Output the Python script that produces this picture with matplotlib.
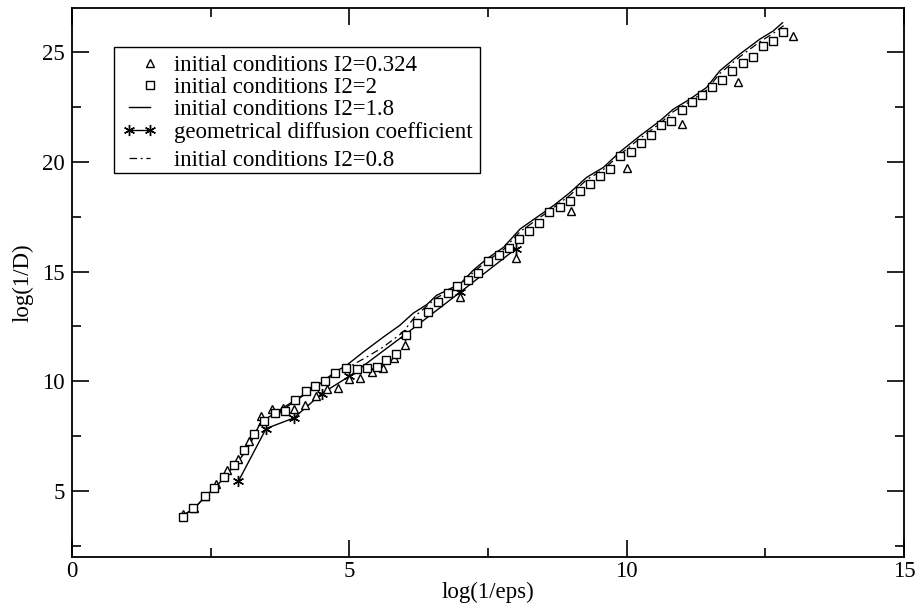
import matplotlib
matplotlib.use("Agg")
import matplotlib.pyplot as plt
import matplotlib.transforms as mtransforms
from matplotlib.ticker import MultipleLocator

plt.rcParams['font.family'] = ['Liberation Serif', 'DejaVu Serif']
plt.rcParams['mathtext.fontset'] = 'stix'

# I2 = 0.324 (triangles)
tri_x = [2.0, 2.2, 2.4, 2.6, 2.8, 3.0, 3.2, 3.4, 3.6, 3.8, 4.0, 4.2, 4.4, 4.6, 4.8,
         5.0, 5.2, 5.4, 5.6, 5.8, 6.0, 7.0, 8.0, 9.0, 10.0, 11.0, 12.0, 13.0]
tri_y = [3.95, 4.22, 4.78, 5.32, 5.95, 6.44, 7.28, 8.41, 8.72, 8.79, 8.73, 8.91, 9.31, 9.66, 9.71,
         10.1, 10.17, 10.42, 10.6, 11.06, 11.64, 13.83, 15.62, 17.77, 19.7, 21.74, 23.65, 25.73]

# I2 = 2 (squares)
sq_x = [2.0, 2.19, 2.39, 2.56, 2.74, 2.92, 3.1, 3.29, 3.47, 3.66, 3.84, 4.02, 4.21, 4.39, 4.57,
        4.75, 4.94, 5.13, 5.31, 5.49, 5.67, 5.85, 6.03, 6.22, 6.41, 6.59, 6.77, 6.95, 7.14, 7.32,
        7.5, 7.69, 7.88, 8.06, 8.24, 8.42, 8.6, 8.79, 8.97, 9.15, 9.34, 9.52, 9.7, 9.88, 10.08,
        10.26, 10.44, 10.62, 10.8, 10.99, 11.17, 11.35, 11.54, 11.72, 11.9, 12.09, 12.27, 12.45,
        12.64, 12.82]
sq_y = [3.8, 4.21, 4.79, 5.15, 5.65, 6.18, 6.85, 7.59, 8.2, 8.56, 8.64, 9.14, 9.55, 9.8, 10.0,
        10.38, 10.6, 10.58, 10.6, 10.65, 10.98, 11.23, 12.12, 12.65, 13.16, 13.61, 14.0, 14.32,
        14.62, 14.95, 15.48, 15.76, 16.06, 16.47, 16.83, 17.23, 17.7, 17.95, 18.2, 18.65, 18.97,
        19.34, 19.68, 20.25, 20.45, 20.84, 21.23, 21.68, 21.86, 22.36, 22.74, 23.02, 23.4, 23.73,
        24.12, 24.5, 24.79, 25.29, 25.51, 25.92]

# I2 = 1.8 (solid line)
l18_x = [2.0, 2.2, 2.4, 2.6, 2.8, 3.0, 3.2, 3.39, 3.48, 3.69, 4.11, 4.45, 4.74, 4.95, 5.25,
         5.61, 5.91, 6.15, 6.4, 6.57, 6.81, 7.0, 7.23, 7.48, 7.78, 8.08, 8.38, 8.68, 8.98, 9.28,
         9.58, 9.88, 10.24, 10.6, 10.84, 11.14, 11.44, 11.68, 12.04, 12.4, 12.64, 12.81]
l18_y = [3.9, 4.2, 4.75, 5.2, 5.8, 6.35, 7.1, 8.08, 8.26, 8.6, 9.29, 9.85, 10.42, 10.73, 11.33,
         12.01, 12.55, 13.1, 13.5, 13.91, 14.21, 14.44, 15.05, 15.58, 16.1, 16.94, 17.47, 18.0,
         18.6, 19.29, 19.74, 20.45, 21.18, 21.86, 22.39, 22.85, 23.38, 24.14, 24.9, 25.58, 25.95,
         26.33]

# geometrical diffusion coefficient (asterisks)
geo_x = [3.0, 3.5, 4.0, 4.5, 5.0, 6.0, 7.0, 8.0]
geo_y = [5.45, 7.85, 8.33, 9.44, 10.23, 12.12, 14.06, 16.03]

# I2 = 0.8 (dash-dot line)
l08_x = [2.0, 2.2, 2.4, 2.6, 2.8, 3.0, 3.2, 3.39, 3.57, 3.8, 4.11, 4.45, 4.74, 4.95, 5.31,
         5.61, 5.97, 6.2, 6.57, 6.81, 7.0, 7.23, 7.48, 7.78, 8.08, 8.38, 8.68, 8.98, 9.28,
         9.58, 9.88, 10.24, 10.6, 10.84, 11.14, 11.44, 11.68, 12.04, 12.4, 12.64, 12.83]
l08_y = [3.9, 4.2, 4.75, 5.2, 5.8, 6.35, 7.1, 8.08, 8.38, 8.7, 9.25, 9.82, 10.35, 10.6, 11.1,
         11.56, 12.24, 13.0, 13.8, 14.12, 14.36, 14.95, 15.48, 16.0, 16.82, 17.36, 17.9, 18.48,
         19.18, 19.64, 20.33, 21.06, 21.74, 22.28, 22.74, 23.26, 24.02, 24.78, 25.46, 25.84, 26.2]

FS = 16.5

fig = plt.figure(figsize=(9.21, 6.14), dpi=100)
ax = fig.add_axes([72/921, 57/614, 832/921, 549/614])

ax.plot(tri_x, tri_y, linestyle='none', marker='^', markersize=6, markerfacecolor='white',
        markeredgecolor='black', markeredgewidth=1.0, label='initial conditions I2=0.324', zorder=3)
ax.plot(sq_x, sq_y, linestyle='none', marker='s', markersize=5.5, markerfacecolor='white',
        markeredgecolor='black', markeredgewidth=1.0, label='initial conditions I2=2', zorder=3)
ax.plot(l18_x, l18_y, color='black', linewidth=1.0, label='initial conditions I2=1.8', zorder=2)
ax.plot(geo_x, geo_y, color='black', linewidth=1.0, marker=(6, 2, 0), markersize=8,
        markeredgewidth=1.0, label='geometrical diffusion coefficient', zorder=2)
ax.plot(l08_x, l08_y, color='black', linewidth=0.9, dashes=[6, 3, 1.5, 3],
        label='initial conditions I2=0.8', zorder=2)

ax.set_xlim(0, 15)
ax.set_ylim(2, 27)
ax.xaxis.set_major_locator(MultipleLocator(5))
ax.xaxis.set_minor_locator(MultipleLocator(2.5))
ax.yaxis.set_major_locator(MultipleLocator(5))
ax.yaxis.set_minor_locator(MultipleLocator(2.5))
ax.tick_params(which='both', direction='in', top=True, right=True, labelsize=FS, width=1.2)
ax.tick_params(which='major', length=12)
ax.tick_params(axis='x', which='major', pad=3)
ax.tick_params(axis='y', which='major', pad=5)
ax.tick_params(which='minor', length=6.5)
for s in ax.spines.values():
    s.set_linewidth(1.3)

ax.set_xlabel('log(1/eps)', fontsize=FS, labelpad=0)
ax.set_ylabel('log(1/D)', fontsize=FS, labelpad=6)

leg = ax.legend(loc='upper left', bbox_to_anchor=(0.0505, 0.929), borderaxespad=0,
                fancybox=False, edgecolor='black', framealpha=1, fontsize=FS,
                handlelength=1.5, handletextpad=0.75, labelspacing=0.05, borderpad=0.35,
                numpoints=2)
leg.get_frame().set_linewidth(1.0)
for h in leg.legend_handles[:2]:
    h.set_markevery([1])

# last legend row sits a little lower in the reference
shift = mtransforms.ScaledTranslation(0, -6/100, fig.dpi_scale_trans)
last_txt = leg.get_texts()[-1]
last_txt.set_transform(last_txt.get_transform() + shift)
last_h = leg.legend_handles[-1]
last_h.set_transform(last_h.get_transform() + shift)

fig.savefig('out.png', dpi=100)
